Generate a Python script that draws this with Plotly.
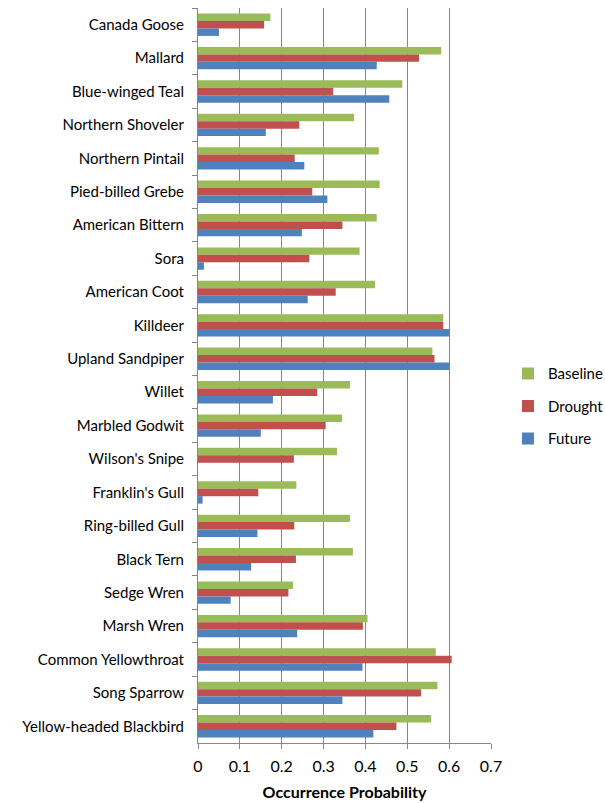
import plotly.graph_objects as go

species = ["Canada Goose", "Mallard", "Blue-winged Teal", "Northern Shoveler",
           "Northern Pintail", "Pied-billed Grebe", "American Bittern", "Sora",
           "American Coot", "Killdeer", "Upland Sandpiper", "Willet",
           "Marbled Godwit", "Wilson's Snipe", "Franklin's Gull", "Ring-billed Gull",
           "Black Tern", "Sedge Wren", "Marsh Wren", "Common Yellowthroat",
           "Song Sparrow", "Yellow-headed Blackbird"]

baseline = [0.173, 0.581, 0.488, 0.373, 0.432, 0.434, 0.427, 0.386, 0.423, 0.586, 0.560,
            0.363, 0.344, 0.332, 0.235, 0.363, 0.370, 0.227, 0.405, 0.568, 0.572, 0.557]
drought = [0.158, 0.528, 0.323, 0.242, 0.231, 0.273, 0.345, 0.266, 0.329, 0.586, 0.565,
           0.285, 0.305, 0.229, 0.144, 0.230, 0.234, 0.216, 0.394, 0.606, 0.533, 0.474]
future = [0.050, 0.427, 0.457, 0.162, 0.254, 0.309, 0.248, 0.014, 0.262, 0.601, 0.601,
          0.179, 0.150, 0.0, 0.011, 0.142, 0.127, 0.078, 0.237, 0.393, 0.345, 0.419]

x_ticks = [0, 0.1, 0.2, 0.3, 0.4, 0.5, 0.6, 0.7]
x_tick_labels = ["0", "0.1", "0.2", "0.3", "0.4", "0.5", "0.6", "0.7"]

series = [("Baseline", baseline, "#9BBB59"),
          ("Drought", drought, "#C0504D"),
          ("Future", future, "#4F81BD")]

fig = go.Figure()
for i, (name, vals, color) in enumerate(series):
    fig.add_trace(go.Bar(
        name=name, y=species, x=vals, orientation="h",
        marker=dict(color=color, line=dict(width=0)),
        legendgroup=str(i),
    ))

font_family = "Lato, 'Open Sans', Arial, sans-serif"
grid_col = "#868686"

fig.update_layout(
    width=605, height=803,
    barmode="group", bargap=0.33, bargroupgap=0,
    plot_bgcolor="white", paper_bgcolor="white",
    margin=dict(l=198, r=114, t=8, b=60, autoexpand=False),
    font=dict(family=font_family, size=15, color="black"),
    legend=dict(x=1.058, xanchor="left", y=0.458, yanchor="middle",
                tracegroupgap=10, font=dict(size=15), traceorder="grouped"),
    xaxis=dict(range=[0, 0.7], tickvals=x_ticks, ticktext=x_tick_labels,
               showgrid=True, gridcolor=grid_col, gridwidth=1,
               showline=True, linecolor=grid_col, linewidth=1,
               ticks="outside", ticklen=5, tickcolor=grid_col,
               zeroline=False, tickfont=dict(size=16), ticklabelstandoff=4,
               title=dict(text="<b>Occurrence Probability</b>", font=dict(size=16), standoff=12)),
    yaxis=dict(autorange="reversed", type="category",
               showline=True, linecolor=grid_col, linewidth=1,
               ticks="outside", ticklen=5, tickcolor=grid_col, tickson="boundaries",
               showgrid=False, tickfont=dict(size=15), ticklabelstandoff=10),
)

fig.write_html("out.html")
